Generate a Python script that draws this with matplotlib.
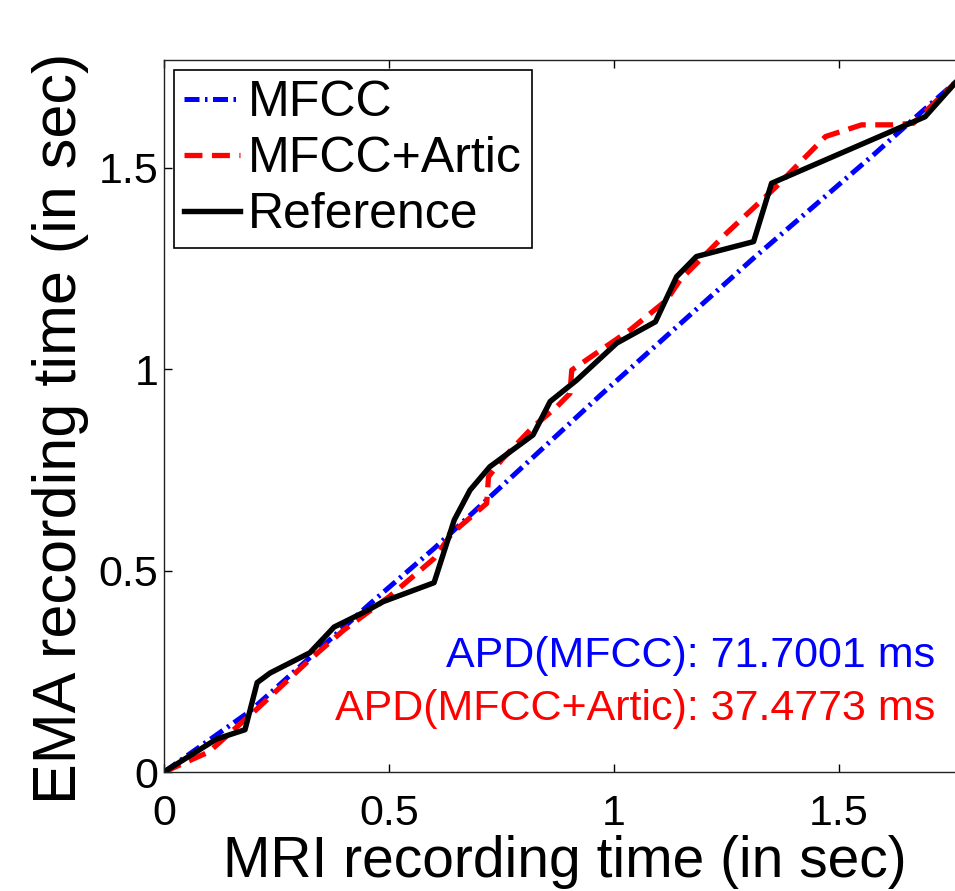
import matplotlib
matplotlib.use("Agg")
import matplotlib.pyplot as plt

# Reference alignment path (black)
ref_x = [0, 0.117, 0.18, 0.207, 0.236, 0.324, 0.378, 0.45, 0.487, 0.60, 0.645, 0.68, 0.724,
         0.82, 0.858, 0.917, 1.006, 1.092, 1.139, 1.183, 1.31, 1.35, 1.691, 1.762]
ref_y = [0, 0.082, 0.105, 0.222, 0.246, 0.296, 0.36, 0.40, 0.423, 0.47, 0.626, 0.70, 0.758,
         0.837, 0.92, 0.973, 1.065, 1.118, 1.23, 1.28, 1.317, 1.462, 1.627, 1.716]

# MFCC+Artic path (red dashed)
artic_x = [0, 0.1, 0.21, 0.32, 0.4, 0.5, 0.6, 0.64, 0.717, 0.721, 0.75, 0.82, 0.873, 0.902,
           0.906, 0.954, 1.036, 1.117, 1.147, 1.25, 1.36, 1.47, 1.55, 1.62, 1.665, 1.762]
artic_y = [0, 0.05, 0.16, 0.275, 0.353, 0.435, 0.53, 0.593, 0.667, 0.733, 0.775, 0.857, 0.907,
           0.94, 0.998, 1.035, 1.098, 1.172, 1.222, 1.338, 1.453, 1.578, 1.607, 1.607, 1.611, 1.716]

# MFCC path (blue dash-dot)
mfcc_x = [0, 0.19, 0.46, 0.6, 0.97, 1.31, 1.58, 1.68, 1.762]
mfcc_y = [0, 0.15, 0.42, 0.555, 0.936, 1.276, 1.536, 1.636, 1.716]

apd_mfcc = 71.7001
apd_artic = 37.4773

xticks = [0, 0.5, 1, 1.5]
yticks = [0, 0.5, 1, 1.5]

plt.rcParams['font.family'] = ['Liberation Sans', 'DejaVu Sans']

fig = plt.figure(figsize=(9.55, 8.91), dpi=100)
# axes box in pixels: left 164, right 957 (cut off), bottom 772, top 60
ax = fig.add_axes([164 / 955, 1 - 772 / 891, (957 - 164) / 955, (772 - 60) / 891])

ax.plot(mfcc_x, mfcc_y, color=(0, 0, 1), lw=3.6, dashes=(3.0, 1.1, 0.5, 1.1), label='MFCC')
ax.plot(artic_x, artic_y, color=(1, 0, 0), lw=3.8, dashes=(3.4, 1.8), label='MFCC+Artic')
ax.plot(ref_x, ref_y, color='black', lw=3.9, label='Reference')

ax.set_xlim(0, 1.762)
ax.set_ylim(0, 1.768)
ax.set_xticks(xticks)
ax.set_yticks(yticks)
ax.set_xticklabels(['0', '0.5', '1', '1.5'])
ax.set_yticklabels(['0', '0.5', '1', '1.5'])

# MATLAB-like inward ticks, top ticks too
ax.tick_params(axis='x', direction='in', top=True, length=5.5, width=1, labelsize=31, pad=16)
ax.tick_params(axis='y', direction='in', right=False, length=5.5, width=1, labelsize=31, pad=4)
for s in ax.spines.values():
    s.set_linewidth(1.0)
    s.set_color('#222222')

ax.set_xlabel('MRI recording time (in sec)', fontsize=41)
ax.set_ylabel('EMA recording time (in sec)', fontsize=44)
ax.xaxis.set_label_coords(0.505, -0.088)
ax.yaxis.set_label_coords(-0.095, 0.482)

# APD annotations
ax.text(1.713, 0.261, f'APD(MFCC): {apd_mfcc:.4f} ms', color=(0, 0, 1), fontsize=31,
        ha='right', va='baseline')
ax.text(1.713, 0.129, f'APD(MFCC+Artic): {apd_artic:.4f} ms', color=(1, 0, 0), fontsize=31,
        ha='right', va='baseline')

leg = ax.legend(loc='upper left', fontsize=36, frameon=True, fancybox=False, framealpha=1,
                edgecolor='black', borderaxespad=0.2, borderpad=0.2, labelspacing=0.2,
                handlelength=1.12, handletextpad=0.16)
leg.get_frame().set_linewidth(1.2)

fig.savefig('out.png', dpi=100)
